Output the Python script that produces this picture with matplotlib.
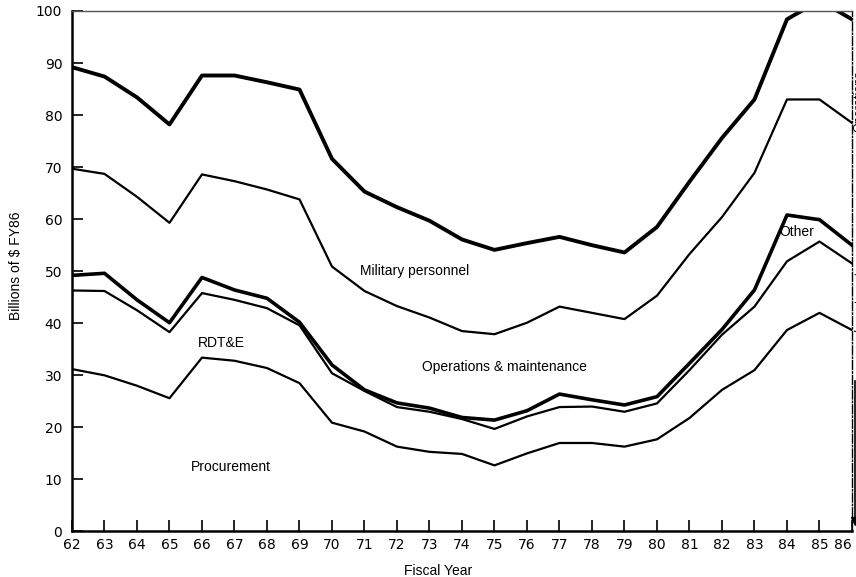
import matplotlib.pyplot as plt

years = list(range(62, 87))

# cumulative band boundaries, billions of FY86 dollars
procurement = [31.2, 30.0, 28.0, 25.6, 33.4, 32.8, 31.4, 28.5, 20.9, 19.2, 16.3, 15.3, 14.9,
               12.7, 15.0, 17.0, 17.0, 16.3, 17.7, 21.8, 27.2, 31.0, 38.7, 42.0, 38.7]
rdte_top = [46.3, 46.2, 42.5, 38.3, 45.8, 44.5, 42.9, 39.6, 30.4, 27.0, 23.9, 23.0, 21.6,
            19.7, 22.1, 23.9, 24.0, 23.0, 24.6, 31.0, 37.8, 43.2, 51.9, 55.7, 51.5]
investment_top = [49.2, 49.6, 44.5, 40.1, 48.8, 46.4, 44.8, 40.2, 32.0, 27.2, 24.7, 23.7, 21.9,
                  21.4, 23.2, 26.4, 25.3, 24.3, 25.9, 32.3, 38.8, 46.4, 60.8, 59.9, 55.0]
om_top = [69.7, 68.7, 64.3, 59.3, 68.6, 67.3, 65.7, 63.8, 50.9, 46.2, 43.3, 41.1, 38.5,
          37.9, 40.1, 43.2, 42.0, 40.8, 45.3, 53.3, 60.4, 68.9, 83.0, 83.0, 78.5]
total = [89.2, 87.4, 83.4, 78.2, 87.6, 87.6, 86.3, 84.9, 71.6, 65.3, 62.3, 59.7, 56.1,
         54.1, 55.4, 56.6, 55.0, 53.6, 58.5, 67.2, 75.6, 83.0, 98.4, 102.0, 98.4]

band_labels = ["Military personnel", "Operations & maintenance", "RDT&E", "Procurement", "Other"]
label_pos = [(72.55, 50.1), (75.3, 31.6), (66.6, 36.2), (66.9, 12.4), (84.3, 57.6)]

plt.rcParams['font.family'] = ['Liberation Sans', 'DejaVu Sans']

fig = plt.figure(figsize=(8.56, 5.77), dpi=100)
ax = fig.add_axes([0.0841, 0.0789, 0.9112, 0.9021])

ax.plot(years, procurement, color="black", lw=1.6)
ax.plot(years, rdte_top, color="black", lw=1.6)
ax.plot(years, investment_top, color="black", lw=2.6)
ax.plot(years, om_top, color="black", lw=1.6)
ax.plot(years, total, color="black", lw=2.8)

for txt, (x, y) in zip(band_labels, label_pos):
    ax.text(x, y, txt, ha="center", va="center", fontsize=10)

ax.set_xlim(62, 86)
ax.set_ylim(0, 100)
ax.set_xticks(years)
ax.set_xticklabels([str(y) for y in years])
ax.set_yticks(range(0, 101, 10))
ax.tick_params(direction="in", length=8, width=1.2, labelsize=10, pad=7)
ax.tick_params(axis="x", pad=5)
for lab in ax.get_xticklabels() + ax.get_yticklabels():
    lab.set_family("DejaVu Sans")
ax.get_xticklabels()[-1].set_horizontalalignment("right")

ax.spines["left"].set_linewidth(1.8)
ax.spines["bottom"].set_linewidth(1.8)
ax.spines["top"].set_linewidth(1.0)
ax.spines["top"].set_color("#555555")
ax.spines["right"].set_linewidth(1.0)
ax.spines["right"].set_linestyle("-.")

ax.set_xlabel("Fiscal Year", fontsize=10)
ax.xaxis.set_label_coords(0.47, -0.062)
ax.set_ylabel("Billions of $ FY86", fontsize=10)
ax.yaxis.set_label_coords(-0.063, 0.51)

# labels of the right-hand bracket, cut off at the page edge as in the source
fig.text(0.9975, 0.825, "Operations", rotation=90, ha="left", va="center", fontsize=9)
fig.text(0.9975, 0.48, "Investment", rotation=90, ha="left", va="center", fontsize=9)
fig.add_artist(plt.Line2D([0.9988, 0.9988], [0.34, 0.095], color="black", lw=1.2))
fig.add_artist(plt.Line2D([0.9988], [0.097], marker="v", color="black", markersize=6))

fig.savefig("out.png", dpi=100)
